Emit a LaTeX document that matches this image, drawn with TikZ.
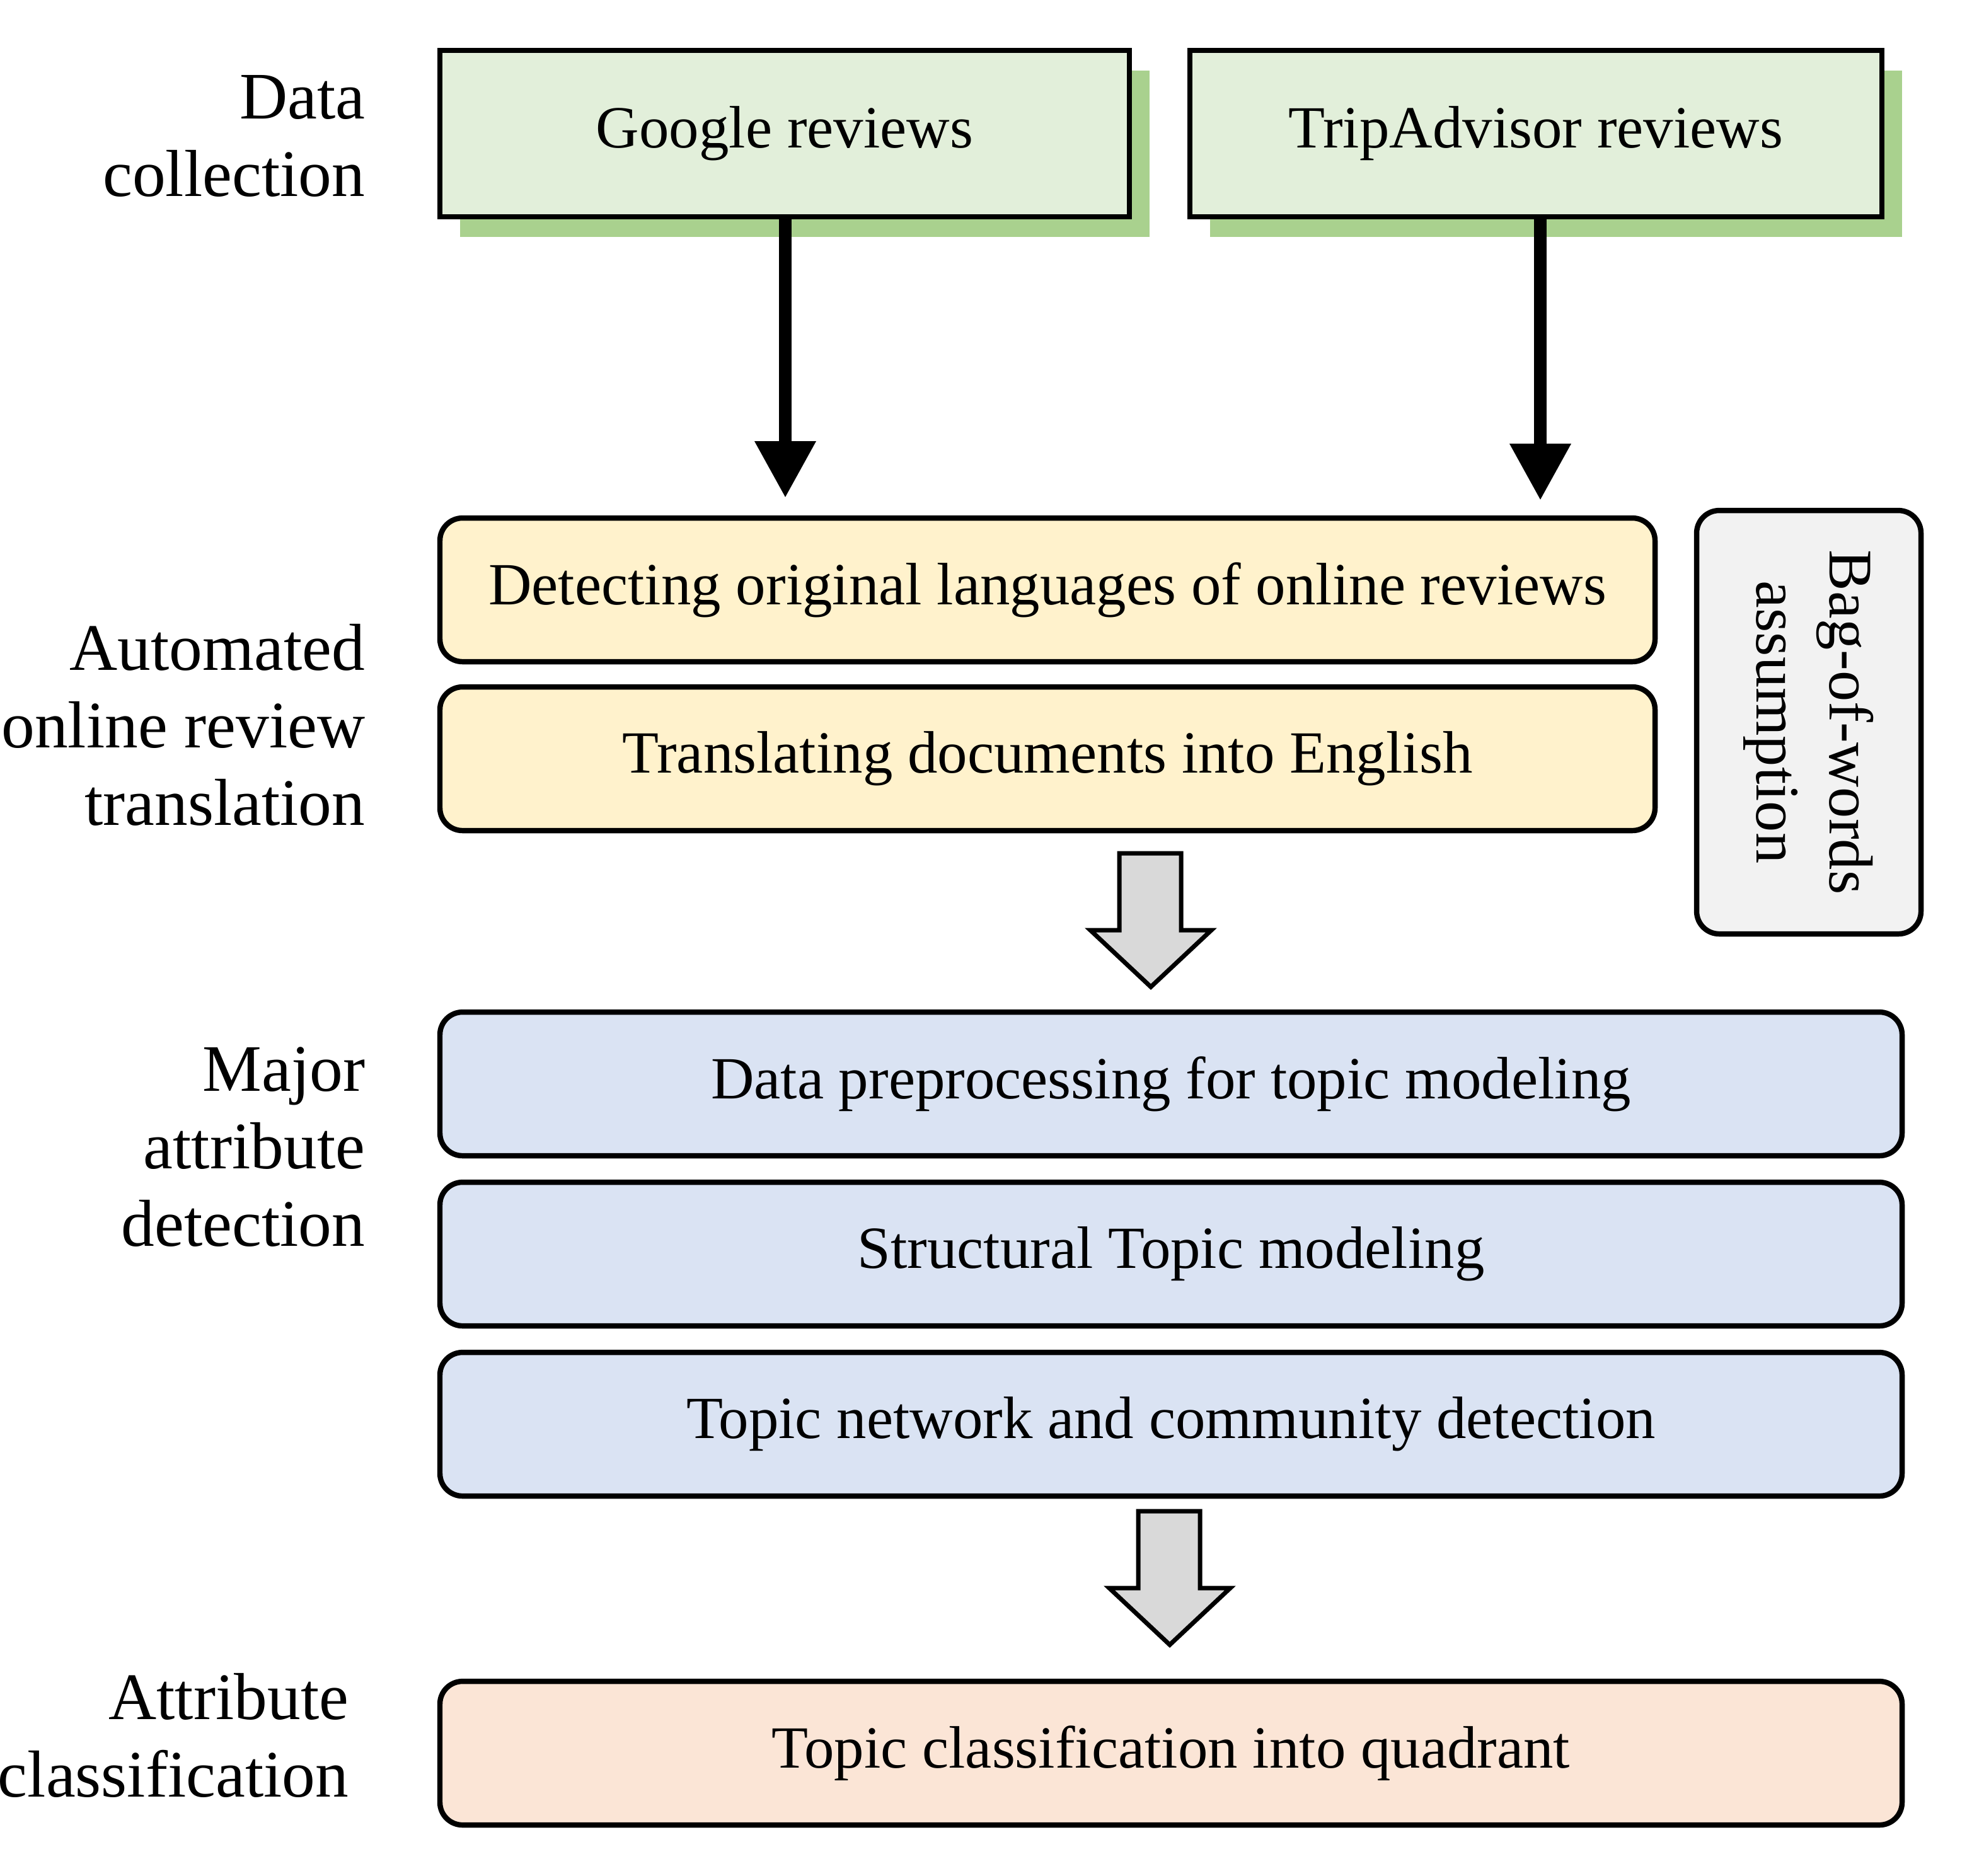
\documentclass[tikz,border=0pt]{standalone}
\usepackage{fontspec}
\setmainfont{Liberation Serif}
\usetikzlibrary{arrows.meta,positioning,calc}
\definecolor{srcfill}{HTML}{E2EFDA}
\definecolor{srcshadow}{HTML}{A9D18E}
\definecolor{transfill}{HTML}{FFF2CC}
\definecolor{topicfill}{HTML}{DAE3F3}
\definecolor{classfill}{HTML}{FBE5D6}
\definecolor{bowfill}{HTML}{F2F2F2}
\definecolor{blockgray}{HTML}{D9D9D9}
\tikzset{
  source/.style={draw,line width=1.2pt,fill=srcfill,minimum width=5.47cm,minimum height=1.32cm,
    font=\fontsize{13.5}{16}\selectfont},
  process/.style={draw,line width=1.2pt,rounded corners=0.18cm,minimum height=1.14cm,
    font=\fontsize{13.5}{16}\selectfont},
  stage/.style={align=right,anchor=east,font=\fontsize{15}{17.5}\selectfont},
  flow/.style={line width=0.1cm,-{Triangle[length=0.45cm,width=0.46cm]}},
  block/.style={draw,line width=1pt,fill=blockgray,line join=miter}
}
\begin{document}
\begin{tikzpicture}
  \useasboundingbox (0,0) rectangle (15.74,-14.88);
  % source boxes with flat shadow
  \fill[srcshadow] (3.65,-0.56) rectangle (9.12,-1.88);
  \fill[srcshadow] (9.60,-0.56) rectangle (15.09,-1.88);
  \node[source] (google) at (6.225,-1.06) {Google reviews};
  \node[source,minimum width=5.49cm] (trip) at (12.185,-1.06) {TripAdvisor reviews};

  % translation steps
  \node[process,fill=transfill,minimum width=9.64cm] (detect) at (8.31,-4.68) {Detecting original languages of online reviews};
  \node[process,fill=transfill,minimum width=9.64cm] (translate) at (8.31,-6.02) {Translating documents into English};
  \node[process,fill=bowfill,minimum width=3.36cm,minimum height=1.78cm,rotate=-90,align=center,
    font=\fontsize{14}{16.5}\selectfont] (bow) at (14.35,-5.73) {Bag-of-words\\assumption};

  % topic steps
  \node[process,fill=topicfill,minimum width=11.6cm] (prep) at (9.29,-8.60) {Data preprocessing for topic modeling};
  \node[process,fill=topicfill,minimum width=11.6cm] (stm) at (9.29,-9.95) {Structural Topic modeling};
  \node[process,fill=topicfill,minimum width=11.6cm] (network) at (9.29,-11.30) {Topic network and community detection};
  \node[process,fill=classfill,minimum width=11.6cm] (quad) at (9.29,-13.91) {Topic classification into quadrant};

  % stage labels
  \node[stage] (collect) at (3.02,-1.08) {Data\\collection};
  \node[stage] (auto) at (3.02,-5.75) {Automated\\online review\\translation};
  \node[stage] (major) at (3.02,-9.10) {Major\\attribute\\detection};
  \node[stage] (classify) at (2.89,-13.77) {Attribute\\classification};

  % arrows
  \coordinate (gend) at (6.23,-3.95);
  \coordinate (tend) at (12.22,-3.97);
  \draw[flow] (google.south -| gend) -- (gend);
  \draw[flow] (trip.south -| tend) -- (tend);

  \draw[block] (8.88,-6.77) -- (9.37,-6.77) -- (9.37,-7.38) -- (9.61,-7.38) -- (9.13,-7.83)
    -- (8.65,-7.38) -- (8.88,-7.38) -- cycle;
  \draw[block] (9.03,-11.99) -- (9.52,-11.99) -- (9.52,-12.60) -- (9.76,-12.60) -- (9.28,-13.05)
    -- (8.80,-12.60) -- (9.03,-12.60) -- cycle;
\end{tikzpicture}
\end{document}
